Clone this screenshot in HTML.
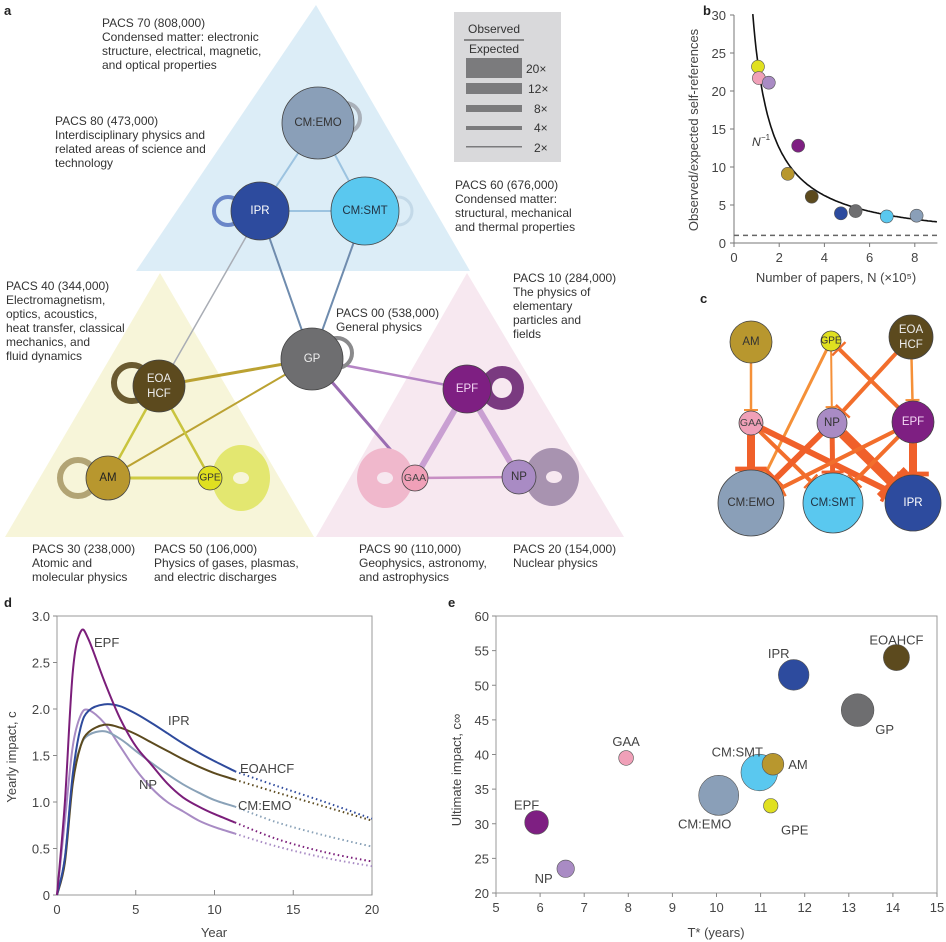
<!DOCTYPE html>
<html><head><meta charset="utf-8"><style>
html,body{margin:0;padding:0;background:#fff;}
svg{display:block;font-family:"Liberation Sans",sans-serif;}
.t{font-size:12px;fill:#333;}
.tk{font-size:13px;fill:#444;}
.pl{font-size:13px;font-weight:bold;fill:#222;}
.nl{font-size:11.5px;text-anchor:middle;dominant-baseline:central;}
</style></head><body>
<svg id="fig" width="946" height="942" viewBox="0 0 946 942">
<g>
<text class="pl" x="4" y="15">a</text>
<polygon points="316,5 136,271 470,271" fill="#dcedf7"/>
<polygon points="160,273 5,537 314,537" fill="#f7f5d9"/>
<polygon points="467,273 316,537 624,537" fill="#f7e8f0"/>
<rect x="454" y="12" width="107" height="150" fill="#d9d9db"/>
<text class="t" x="494" y="33" text-anchor="middle">Observed</text>
<line x1="464" y1="40" x2="524" y2="40" stroke="#333" stroke-width="1"/>
<text class="t" x="494" y="53" text-anchor="middle">Expected</text>
<g fill="#7b7b7d">
<rect x="466" y="58" width="56" height="20"/><rect x="466" y="83" width="56" height="11"/><rect x="466" y="105" width="56" height="7"/><rect x="466" y="126" width="56" height="4"/><rect x="466" y="146" width="56" height="1.5"/>
</g>
<g class="t" font-size="11.5">
<text x="526" y="73">20×</text><text x="528" y="93">12×</text><text x="534" y="113">8×</text><text x="534" y="132">4×</text><text x="534" y="152">2×</text>
</g>
<g stroke-linecap="round">
<line x1="318" y1="123" x2="260" y2="211" stroke="#9cc3e0" stroke-width="2"/>
<line x1="318" y1="123" x2="365" y2="211" stroke="#9cc3e0" stroke-width="2"/>
<line x1="260" y1="211" x2="365" y2="211" stroke="#9cc3e0" stroke-width="2"/>
<line x1="250" y1="230" x2="170" y2="370" stroke="#a9adb5" stroke-width="1.5"/>
<line x1="260" y1="211" x2="312" y2="359" stroke="#6f8cae" stroke-width="2"/>
<line x1="365" y1="211" x2="312" y2="359" stroke="#6f8cae" stroke-width="2"/>
<line x1="312" y1="359" x2="159" y2="386" stroke="#bba232" stroke-width="3"/>
<line x1="312" y1="359" x2="108" y2="478" stroke="#bba232" stroke-width="2"/>
<line x1="159" y1="386" x2="108" y2="478" stroke="#c9c43e" stroke-width="2.5"/>
<line x1="159" y1="386" x2="210" y2="478" stroke="#c9c43e" stroke-width="2.5"/>
<line x1="108" y1="478" x2="210" y2="478" stroke="#cfcc44" stroke-width="3"/>
<line x1="312" y1="359" x2="467" y2="389" stroke="#b585c5" stroke-width="2.5"/>
<line x1="312" y1="359" x2="415" y2="478" stroke="#9a6cb2" stroke-width="3"/>
<line x1="467" y1="389" x2="415" y2="478" stroke="#c99fd2" stroke-width="6"/>
<line x1="467" y1="389" x2="519" y2="477" stroke="#c99fd2" stroke-width="6"/>
<line x1="415" y1="478" x2="519" y2="477" stroke="#c88fc4" stroke-width="2.5"/>
</g>
<g fill="none">
<circle cx="345" cy="118" r="15" stroke="#a9b0b9" stroke-width="4"/>
<circle cx="228" cy="211" r="14" stroke="#6a86c8" stroke-width="4"/>
<circle cx="398" cy="211" r="14" stroke="#c3d9e8" stroke-width="3"/>
<circle cx="337" cy="353" r="15" stroke="#8a8a8c" stroke-width="4"/>
<circle cx="132" cy="383" r="18" stroke="#6a5a30" stroke-width="6"/>
<circle cx="78" cy="478" r="18" stroke="#b2a474" stroke-width="6"/>
<circle cx="502" cy="388" r="16" stroke="#7a3a80" stroke-width="12"/>
<ellipse cx="241" cy="478" rx="29" ry="33" fill="#e3e770" stroke="none"/>
<ellipse cx="241" cy="478" rx="8" ry="6" fill="#f7f5d9" stroke="none"/>
<ellipse cx="385" cy="478" rx="28" ry="30" fill="#f0b8cc" stroke="none"/>
<ellipse cx="385" cy="478" rx="8" ry="6" fill="#f7e8f0" stroke="none"/>
<ellipse cx="552" cy="477" rx="27" ry="29" fill="#a893b0" stroke="none"/>
<ellipse cx="554" cy="477" rx="8" ry="6" fill="#f7e8f0" stroke="none"/>
</g>
<g stroke="#444" stroke-width="0.8">
<circle cx="318" cy="123" r="36" fill="#8a9fb8"/>
<circle cx="260" cy="211" r="29" fill="#2d4b9e"/>
<circle cx="365" cy="211" r="34" fill="#5ac8ef"/>
<circle cx="312" cy="359" r="31" fill="#6e6e70"/>
<circle cx="159" cy="386" r="26" fill="#5c4a1e"/>
<circle cx="108" cy="478" r="22" fill="#b8972e"/>
<circle cx="210" cy="478" r="12" fill="#e0e020"/>
<circle cx="467" cy="389" r="24" fill="#7e1f82"/>
<circle cx="415" cy="478" r="13" fill="#f0a0b8"/>
<circle cx="519" cy="477" r="17" fill="#a98bc4"/>
</g>
<g class="nl">
<text x="318" y="123" fill="#333">CM:EMO</text>
<text x="260" y="211" fill="#fff">IPR</text>
<text x="365" y="211" fill="#234">CM:SMT</text>
<text x="312" y="359" fill="#eee">GP</text>
<text x="159" y="379" fill="#eee">EOA</text><text x="159" y="394" fill="#eee">HCF</text>
<text x="108" y="478" fill="#222">AM</text>
<text x="210" y="478" fill="#333" font-size="10">GPE</text>
<text x="467" y="389" fill="#f4d8f4">EPF</text>
<text x="415" y="478" fill="#444" font-size="10.5">GAA</text>
<text x="519" y="477" fill="#333">NP</text>
</g>
<g class="t">
<text x="102" y="27">PACS 70 (808,000)</text><text x="102" y="41">Condensed matter: electronic</text><text x="102" y="55">structure, electrical, magnetic,</text><text x="102" y="69">and optical properties</text>
<text x="55" y="125">PACS 80 (473,000)</text><text x="55" y="139">Interdisciplinary physics and</text><text x="55" y="153">related areas of science and</text><text x="55" y="167">technology</text>
<text x="455" y="189">PACS 60 (676,000)</text><text x="455" y="203">Condensed matter:</text><text x="455" y="217">structural, mechanical</text><text x="455" y="231">and thermal properties</text>
<text x="6" y="290">PACS 40 (344,000)</text><text x="6" y="304">Electromagnetism,</text><text x="6" y="318">optics, acoustics,</text><text x="6" y="332">heat transfer, classical</text><text x="6" y="346">mechanics, and</text><text x="6" y="360">fluid dynamics</text>
<text x="336" y="317">PACS 00 (538,000)</text><text x="336" y="331">General physics</text>
<text x="513" y="282">PACS 10 (284,000)</text><text x="513" y="296">The physics of</text><text x="513" y="310">elementary</text><text x="513" y="324">particles and</text><text x="513" y="338">fields</text>
<text x="32" y="553">PACS 30 (238,000)</text><text x="32" y="567">Atomic and</text><text x="32" y="581">molecular physics</text>
<text x="154" y="553">PACS 50 (106,000)</text><text x="154" y="567">Physics of gases, plasmas,</text><text x="154" y="581">and electric discharges</text>
<text x="359" y="553">PACS 90 (110,000)</text><text x="359" y="567">Geophysics, astronomy,</text><text x="359" y="581">and astrophysics</text>
<text x="513" y="553">PACS 20 (154,000)</text><text x="513" y="567">Nuclear physics</text>
</g>
</g>

<g>
<text class="pl" x="700" y="303">c</text>
<g id="cEdges" stroke-linecap="butt"></g>
<g stroke="#444" stroke-width="0.8">
<circle cx="751" cy="342" r="21" fill="#b8972e"/>
<circle cx="831" cy="341" r="10" fill="#e0e020"/>
<circle cx="911" cy="337" r="22" fill="#5c4a1e"/>
<circle cx="751" cy="423" r="12" fill="#f0a0b8"/>
<circle cx="832" cy="423" r="15" fill="#a98bc4"/>
<circle cx="913" cy="422" r="21" fill="#7e1f82"/>
<circle cx="751" cy="503" r="33" fill="#8a9fb8"/>
<circle cx="833" cy="503" r="30" fill="#5ac8ef"/>
<circle cx="913" cy="503" r="28" fill="#2d4b9e"/>
</g>
<g class="nl">
<text x="751" y="342" fill="#333">AM</text>
<text x="831" y="341" fill="#333" font-size="10">GPE</text>
<text x="911" y="330" fill="#eee">EOA</text><text x="911" y="345" fill="#eee">HCF</text>
<text x="751" y="423" fill="#444" font-size="10.5">GAA</text>
<text x="832" y="423" fill="#333">NP</text>
<text x="913" y="422" fill="#f4d8f4">EPF</text>
<text x="751" y="503" fill="#333">CM:EMO</text>
<text x="833" y="503" fill="#234">CM:SMT</text>
<text x="913" y="503" fill="#fff">IPR</text>
</g>
</g>

<g id="panelB"></g>
<g id="panelD"></g>
<g id="panelE"></g>
</svg>
<script>
const fieldNames = ["GPE","GAA","NP","EPF","AM","EOAHCF","IPR","GP","CM:SMT","CM:EMO"];
const fieldColors = ["#e0e020","#f0a0b8","#a98bc4","#7e1f82","#b8972e","#5c4a1e","#2d4b9e","#6e6e70","#5ac8ef","#8a9fb8"];
const paperCounts = [106,110,154,284,238,344,473,538,676,808];
const selfRefRatio = [23.2,21.7,21.1,12.8,9.1,6.1,3.9,4.2,3.5,3.6];
const bXTicks = [0,2,4,6,8];
const bYTicks = [0,5,10,15,20,25,30];

const dYears = [0,0.5,1,1.5,2,3,4,5,6,7,8,9,10,11.3];
const dYearsDotted = [11.3,14,17,20];
const dSeriesNames = ["EPF","IPR","EOAHCF","CM:EMO","NP"];
const dSeriesColors = ["#7b1e7a","#2e4a9c","#5c4a1e","#8aa2b8","#a88bc4"];
const dEPF = [0,1.0,2.4,2.83,2.75,2.3,1.9,1.6,1.4,1.2,1.05,0.95,0.87,0.78];
const dIPR = [0,0.4,1.3,1.8,1.98,2.05,2.03,1.95,1.85,1.74,1.63,1.53,1.44,1.33];
const dEOA = [0,0.35,1.2,1.6,1.75,1.83,1.8,1.73,1.64,1.55,1.46,1.38,1.31,1.24];
const dEMO = [0,0.4,1.25,1.6,1.72,1.76,1.68,1.55,1.42,1.3,1.19,1.1,1.02,0.95];
const dNP  = [0,0.8,1.6,1.93,1.99,1.85,1.6,1.35,1.15,1.0,0.9,0.8,0.73,0.66];
const dEPFdot = [0.78,0.6,0.46,0.36];
const dIPRdot = [1.33,1.17,1.0,0.82];
const dEOAdot = [1.24,1.1,0.95,0.8];
const dEMOdot = [0.95,0.78,0.64,0.52];
const dNPdot  = [0.66,0.52,0.4,0.31];
const dXTicks = [0,5,10,15,20];
const dYTicks = [0,0.5,1.0,1.5,2.0,2.5,3.0];

const eTstar = [11.23,7.95,6.58,5.92,11.28,14.08,11.75,13.2,10.97,10.05];
const eUltimate = [32.6,39.5,23.5,30.2,38.6,54,51.5,46.4,37.4,34.1];
const eXTicks = [5,6,7,8,9,10,11,12,13,14,15];
const eYTicks = [20,25,30,35,40,45,50,55,60];

const cEdgeFrom = ["AM","GPE","GPE","EOA","EOA","EPF","GAA","GAA","GAA","NP","NP","NP","EPF","EPF","EPF"];
const cEdgeTo   = ["GAA","NP","EMO","NP","EPF","GPE","EMO","SMT","IPR","EMO","SMT","IPR","EMO","SMT","IPR"];
const cEdgeW    = [2.5,2,3,4,2.5,4,8,4,6,6,5,10,4,4,8];

const NS="http://www.w3.org/2000/svg";
function mk(tag,attrs,parent){const e=document.createElementNS(NS,tag);for(const k in attrs)e.setAttribute(k,attrs[k]);if(parent)parent.appendChild(e);return e;}
function txt(s,attrs,parent){const e=mk("text",attrs,parent);e.textContent=s;return e;}

(function(){
  const pos={AM:[751,342,21],GPE:[831,341,10],EOA:[911,337,22],GAA:[751,423,12],NP:[832,423,15],EPF:[913,422,21],EMO:[751,503,33],SMT:[833,503,30],IPR:[913,503,28]};
  const g=document.getElementById("cEdges");
  cEdgeFrom.forEach((f,i)=>{
    const a=pos[f],b=pos[cEdgeTo[i]];
    const dx=b[0]-a[0],dy=b[1]-a[1],L=Math.hypot(dx,dy),ux=dx/L,uy=dy/L;
    const x1=a[0]+ux*a[2],y1=a[1]+uy*a[2],x2=b[0]-ux*(b[2]+1),y2=b[1]-uy*(b[2]+1);
    const w=cEdgeW[i];
    const col=w>=5?"#f0602a":(w>=3.5?"#f26e2c":"#f59038");
    const ln=mk("line",{x1:x1,y1:y1,x2:x2,y2:y2,stroke:col,"stroke-width":w},g);
    
    
    const h=w*1.6+3;
    mk("line",{x1:x2-uy*h,y1:y2+ux*h,x2:x2+uy*h,y2:y2-ux*h,stroke:col,"stroke-width":Math.max(2,w*0.6)},g);
  });
})();

(function(){
  const g=document.getElementById("panelB");
  const X=v=>734+v*22.6, Y=v=>243-v*7.6;
  txt("b",{class:"pl",x:703,y:15},g);
  mk("line",{x1:X(0),y1:Y(0),x2:X(0),y2:Y(30),stroke:"#777","stroke-width":1},g);
  mk("line",{x1:X(0),y1:Y(0),x2:X(9),y2:Y(0),stroke:"#777","stroke-width":1},g);
  bYTicks.forEach(t=>{mk("line",{x1:X(0)-4,y1:Y(t),x2:X(0),y2:Y(t),stroke:"#777"},g);txt(String(t),{class:"tk","text-anchor":"end",x:X(0)-8,y:Y(t)+5},g);});
  bXTicks.forEach(t=>{mk("line",{x1:X(t),y1:Y(0),x2:X(t),y2:Y(0)+4,stroke:"#777"},g);txt(String(t),{class:"tk","text-anchor":"middle",x:X(t),y:Y(0)+19},g);});
  mk("line",{x1:X(0),y1:Y(1),x2:X(9),y2:Y(1),stroke:"#666","stroke-width":1.5,"stroke-dasharray":"5 4"},g);
  let d="";for(let n=0.83;n<=9.001;n+=0.05){d+=(d?"L":"M")+X(n).toFixed(1)+","+Y(25/n).toFixed(1);}
  const c=mk("path",{d:d,fill:"none",stroke:"#111","stroke-width":1.6},g);
  
  
  txt("N",{x:752,y:146,"font-style":"italic","font-size":"12",fill:"#333"},g);
  txt("−1",{x:761,y:140,"font-size":"8",fill:"#333"},g);
  fieldNames.forEach((nm,i)=>{
    const p=mk("circle",{cx:X(paperCounts[i]/100),cy:Y(selfRefRatio[i]),r:6.5,fill:fieldColors[i],stroke:"#555","stroke-width":0.6},g);
    
    
  });
  txt("Observed/expected self-references",{class:"tk",transform:"translate(698,130) rotate(-90)","text-anchor":"middle","font-size":"12.5"},g);
  txt("Number of papers, N (×10⁵)",{class:"tk","text-anchor":"middle",x:836,y:282,"font-size":"12.5"},g);
})();

function smooth(pts){let d="M"+pts[0][0]+","+pts[0][1];
  for(let i=0;i<pts.length-1;i++){const p0=pts[i-1]||pts[i],p1=pts[i],p2=pts[i+1],p3=pts[i+2]||p2;
    const c1=[p1[0]+(p2[0]-p0[0])/6,p1[1]+(p2[1]-p0[1])/6],c2=[p2[0]-(p3[0]-p1[0])/6,p2[1]-(p3[1]-p1[1])/6];
    d+="C"+c1[0].toFixed(1)+","+c1[1].toFixed(1)+" "+c2[0].toFixed(1)+","+c2[1].toFixed(1)+" "+p2[0].toFixed(1)+","+p2[1].toFixed(1);}
  return d;}
(function(){
  const g=document.getElementById("panelD");
  const X=v=>57+v*15.75, Y=v=>895-v*93;
  txt("d",{class:"pl",x:4,y:607},g);
  mk("rect",{x:X(0),y:Y(3),width:X(20)-X(0),height:Y(0)-Y(3),fill:"none",stroke:"#999","stroke-width":1},g);
  dYTicks.forEach(t=>{mk("line",{x1:X(0)-4,y1:Y(t),x2:X(0),y2:Y(t),stroke:"#888"},g);txt(t===0?"0":t.toFixed(1),{class:"tk","text-anchor":"end",x:X(0)-7,y:Y(t)+5},g);});
  dXTicks.forEach(t=>{mk("line",{x1:X(t),y1:Y(0),x2:X(t),y2:Y(0)-5,stroke:"#888"},g);txt(String(t),{class:"tk","text-anchor":"middle",x:X(t),y:Y(0)+19},g);});
  const solid=[dEPF,dIPR,dEOA,dEMO,dNP], dotted=[dEPFdot,dIPRdot,dEOAdot,dEMOdot,dNPdot];
  [4,3,2,1,0].forEach(i=>{
    const p=mk("path",{d:smooth(dYears.map((x,j)=>[X(x),Y(solid[i][j])])),fill:"none",stroke:dSeriesColors[i],"stroke-width":2},g);
    
    
    const q=mk("path",{d:smooth(dYearsDotted.map((x,j)=>[X(x),Y(dotted[i][j])])),fill:"none",stroke:dSeriesColors[i],"stroke-width":2,"stroke-dasharray":"1.5 3"},g);
    
    
  });
  const lab=[["EPF",94,647],["IPR",168,725],["EOAHCF",240,773],["CM:EMO",238,810],["NP",139,789]];
  lab.forEach(l=>txt(l[0],{class:"tk",x:l[1],y:l[2],"font-size":"12"},g));
  txt("Yearly impact, c",{class:"tk",transform:"translate(16,757) rotate(-90)","text-anchor":"middle","font-size":"12.5"},g);
  txt("Year",{class:"tk","text-anchor":"middle",x:214,y:937,"font-size":"12.5"},g);
})();

(function(){
  const g=document.getElementById("panelE");
  const X=v=>496+(v-5)*44.1, Y=v=>893-(v-20)*6.925;
  txt("e",{class:"pl",x:448,y:607},g);
  mk("rect",{x:X(5),y:Y(60),width:X(15)-X(5),height:Y(20)-Y(60),fill:"none",stroke:"#999","stroke-width":1},g);
  eYTicks.forEach(t=>{mk("line",{x1:X(5)-4,y1:Y(t),x2:X(5),y2:Y(t),stroke:"#888"},g);txt(String(t),{class:"tk","text-anchor":"end",x:X(5)-7,y:Y(t)+5},g);});
  eXTicks.forEach(t=>{mk("line",{x1:X(t),y1:Y(20),x2:X(t),y2:Y(20)+4,stroke:"#888"},g);txt(String(t),{class:"tk","text-anchor":"middle",x:X(t),y:Y(20)+19},g);});
  const offs={"GPE":[24,24,"middle"],"GAA":[0,-17,"middle"],"NP":[-22,9,"middle"],"EPF":[-10,-18,"middle"],"AM":[25,0,"middle"],"EOAHCF":[0,-18,"middle"],"IPR":[-15,-22,"middle"],"GP":[27,19,"middle"],"CM:SMT":[-22,-21,"middle"],"CM:EMO":[-14,28,"middle"]};
  const order=[9,8,7,6,5,4,3,2,1,0];
  order.forEach(i=>{
    const cx=X(eTstar[i]),cy=Y(eUltimate[i]),r=20*Math.sqrt(paperCounts[i]/808);
    const c=mk("circle",{cx:cx,cy:cy,r:r,fill:fieldColors[i],stroke:"#555","stroke-width":0.6},g);
    
    
  });
  fieldNames.forEach((nm,i)=>{const o=offs[nm];txt(nm,{class:"tk",x:X(eTstar[i])+o[0],y:Y(eUltimate[i])+o[1]+5,"text-anchor":o[2],"font-size":"12.5"},g);});
  txt("Ultimate impact, c∞",{class:"tk",transform:"translate(461,770) rotate(-90)","text-anchor":"middle","font-size":"12.5"},g);
  txt("T* (years)",{class:"tk","text-anchor":"middle",x:716,y:937,"font-size":"12.5"},g);
})();
</script>
</body></html>
